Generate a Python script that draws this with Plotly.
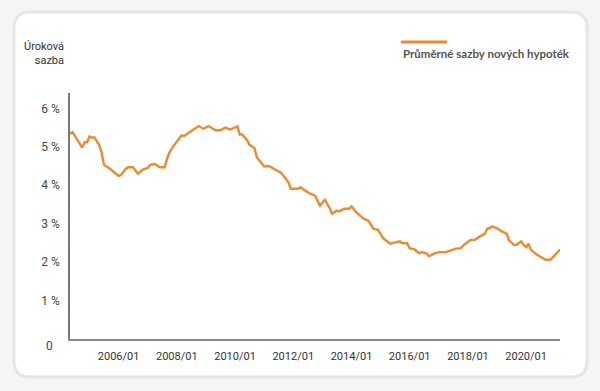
import plotly.graph_objects as go

# ---- data ----
months = ["2004-05", "2004-06", "2004-10", "2004-11", "2004-12", "2005-01", "2005-02", "2005-03",
          "2005-05", "2005-06", "2005-07", "2005-09", "2006-01", "2006-02", "2006-04", "2006-05",
          "2006-07", "2006-09", "2006-11", "2007-01", "2007-02", "2007-04", "2007-06", "2007-08",
          "2007-09", "2007-10", "2007-12", "2008-03", "2008-04", "2008-06", "2008-07", "2008-10",
          "2008-12", "2009-02", "2009-05", "2009-07", "2009-09", "2009-11", "2010-01", "2010-02",
          "2010-03", "2010-04", "2010-06", "2010-07", "2010-09", "2010-10", "2010-11", "2011-01",
          "2011-03", "2011-06", "2011-08", "2011-11", "2011-12", "2012-03", "2012-04", "2012-06",
          "2012-08", "2012-10", "2012-12", "2013-02", "2013-04", "2013-05", "2013-07", "2013-08",
          "2013-10", "2013-12", "2014-01", "2014-03", "2014-06", "2014-08", "2014-10", "2014-12",
          "2015-02", "2015-05", "2015-06", "2015-09", "2015-10", "2015-12", "2016-01", "2016-03",
          "2016-05", "2016-06", "2016-08", "2016-09", "2016-11", "2017-01", "2017-04", "2017-07",
          "2017-08", "2017-10", "2017-11", "2018-02", "2018-04", "2018-06", "2018-08", "2018-09",
          "2018-10", "2018-11", "2019-01", "2019-03", "2019-05", "2019-06", "2019-08", "2019-09",
          "2019-11", "2019-12", "2020-01", "2020-02", "2020-03", "2020-06", "2020-09", "2020-11",
          "2021-01", "2021-03"]
rates = [5.34, 5.38, 4.98, 5.12, 5.12, 5.27, 5.24, 5.25,
         5.05, 4.86, 4.53, 4.45, 4.24, 4.27, 4.43, 4.47,
         4.47, 4.30, 4.41, 4.45, 4.53, 4.55, 4.47, 4.47,
         4.69, 4.86, 5.05, 5.30, 5.28, 5.38, 5.41, 5.54,
         5.47, 5.54, 5.43, 5.43, 5.50, 5.45, 5.50, 5.53,
         5.32, 5.32, 5.17, 5.05, 4.97, 4.73, 4.65, 4.49,
         4.50, 4.39, 4.33, 4.08, 3.91, 3.91, 3.95, 3.86,
         3.78, 3.73, 3.47, 3.62, 3.41, 3.26, 3.34, 3.32,
         3.39, 3.39, 3.45, 3.30, 3.13, 3.08, 2.87, 2.84,
         2.62, 2.48, 2.50, 2.54, 2.49, 2.49, 2.36, 2.33,
         2.23, 2.26, 2.22, 2.15, 2.22, 2.26, 2.26, 2.32,
         2.35, 2.36, 2.43, 2.58, 2.58, 2.67, 2.74, 2.87,
         2.88, 2.93, 2.88, 2.80, 2.74, 2.56, 2.45, 2.45,
         2.54, 2.45, 2.39, 2.48, 2.32, 2.17, 2.06, 2.06,
         2.20, 2.33]

x_tick_vals = ["2006-01", "2008-01", "2010-01", "2012-01", "2014-01", "2016-01", "2018-01", "2020-01"]
x_tick_text = ["2006/01", "2008/01", "2010/01", "2012/01", "2014/01", "2016/01", "2018/01", "2020/01"]
y_tick_vals = [1, 2, 3, 4, 5, 6]
y_tick_text = ["1 %", "2 %", "3 %", "4 %", "5 %", "6 %"]

series_name = "Průměrné sazby nových hypoték"
y_title = "Úroková<br>sazba"

ORANGE = "#EC8A2F"

# ---- geometry helpers (pixels -> paper) ----
W, H = 600, 391
ML, MR, MT, MB = 70, 40, 93, 52
PW, PH = W - ML - MR, H - MT - MB


def px(x):
    return (x - ML) / PW


def py(y):
    return (H - MB - y) / PH


def rounded_rect(x0, y0, x1, y1, r):
    rx, ry = r / PW, r / PH
    X0, X1 = px(x0), px(x1)
    Y0, Y1 = py(y0), py(y1)  # Y0 top (larger), Y1 bottom
    return (f"M {X0+rx},{Y0} L {X1-rx},{Y0} Q {X1},{Y0} {X1},{Y0-ry} "
            f"L {X1},{Y1+ry} Q {X1},{Y1} {X1-rx},{Y1} "
            f"L {X0+rx},{Y1} Q {X0},{Y1} {X0},{Y1+ry} "
            f"L {X0},{Y0-ry} Q {X0},{Y0} {X0+rx},{Y0} Z")


fig = go.Figure()
fig.add_trace(go.Scatter(
    x=months, y=rates, mode="lines", name=series_name,
    line=dict(color=ORANGE, width=2.4), showlegend=False,
))

fig.update_layout(
    width=W, height=H,
    margin=dict(l=ML, r=MR, t=MT, b=MB),
    paper_bgcolor="#f5f5f5",
    plot_bgcolor="rgba(0,0,0,0)",
    font=dict(family="Roboto, Arial, sans-serif", color="#444"),
    xaxis=dict(
        type="date", range=["2004-05-01", "2021-03-01"],
        tickvals=x_tick_vals, ticktext=x_tick_text,
        showgrid=False, zeroline=False,
        showline=True, linecolor="#888", linewidth=1.5,
        ticks="", ticklabelstandoff=6,
        tickfont=dict(family="Roboto", size=11, color="#333"),
    ),
    yaxis=dict(
        range=[0, 6.4],
        tickvals=y_tick_vals, ticktext=y_tick_text,
        showgrid=False, zeroline=False,
        showline=True, linecolor="#777", linewidth=1.5,
        ticks="", ticklabelstandoff=6,
        tickfont=dict(family="Roboto", size=12, color="#444"),
    ),
    shapes=[
        dict(type="path", xref="paper", yref="paper", layer="below",
             path=rounded_rect(14, 12, 587, 377, 16),
             fillcolor="#ffffff", line=dict(color="#e6e6e6", width=3)),
        dict(type="line", xref="paper", yref="paper",
             x0=px(401), x1=px(447), y0=py(42), y1=py(42),
             line=dict(color=ORANGE, width=3)),
    ],
    annotations=[
        dict(text=y_title, xref="paper", yref="paper", x=px(66), y=py(53.5),
             xanchor="right", yanchor="middle", align="right", showarrow=False,
             font=dict(family="Roboto", size=11, color="#333")),
        dict(text=series_name, xref="paper", yref="paper", x=px(401), y=py(53.5),
             xanchor="left", yanchor="middle", showarrow=False,
             font=dict(family="Lato", size=11.5, color="#555", weight="bold")),
        dict(text="0", xref="paper", yref="paper", x=px(49.5), y=py(346),
             xanchor="center", yanchor="middle", showarrow=False,
             font=dict(family="Roboto", size=12, color="#444")),
    ],
)

fig.write_html(
    "out.html",
    config={"displayModeBar": False},
    post_script="document.body.style.margin='0';document.body.style.overflow='hidden';",
)
